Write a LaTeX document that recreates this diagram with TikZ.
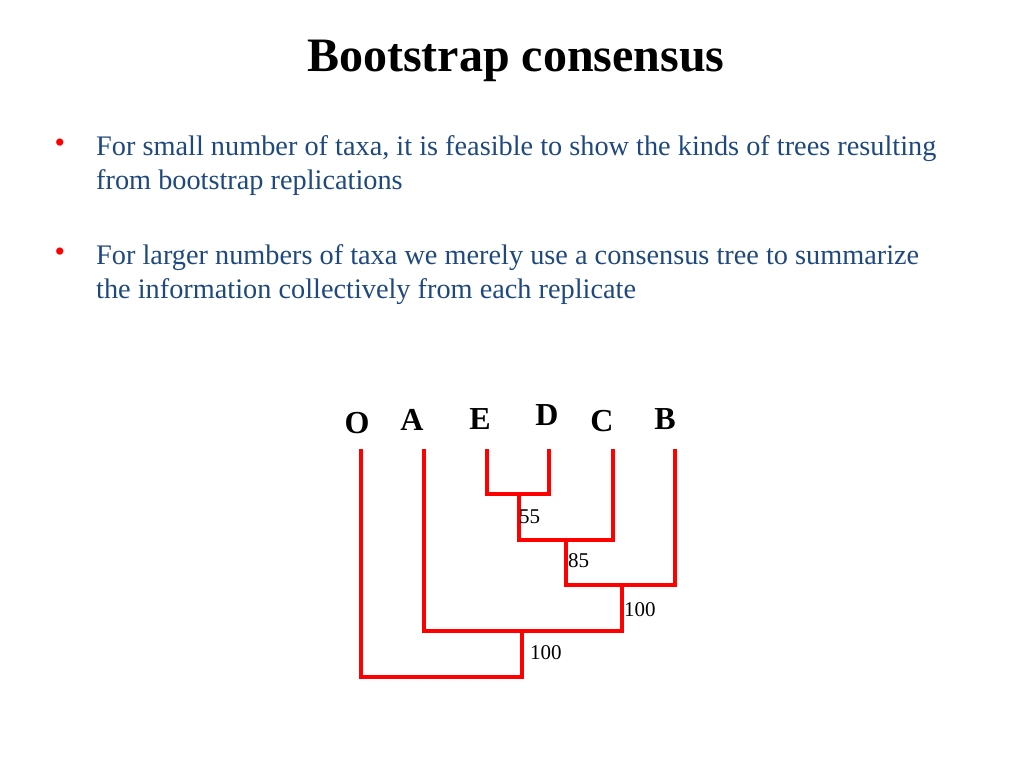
\documentclass[tikz,border=0pt]{standalone}
\usepackage{fontspec}
\setmainfont{Liberation Serif}
\definecolor{txtblue}{HTML}{1F497D}
\definecolor{treered}{HTML}{FF0000}
\begin{document}
\begin{tikzpicture}[x=1pt,y=-1pt,
  branch/.style={draw=treered,line width=4.5pt,line cap=butt,line join=miter},
  taxon/.style={font=\fontsize{32}{32}\selectfont\bfseries,inner sep=0pt},
  boot/.style={font=\fontsize{21}{21}\selectfont,inner sep=0pt,anchor=west},
  body/.style={font=\fontsize{28.3}{34}\selectfont,text=txtblue,anchor=north west,inner sep=0pt,align=left},
  bul/.style={font=\fontsize{30}{30}\selectfont,text=treered,inner sep=0pt}]
\useasboundingbox (0,0) rectangle (1024,768);
\node[font=\fontsize{48}{48}\selectfont\bfseries,inner sep=0pt] (title) at (516,61) {Bootstrap consensus};
\node[bul] (b1) at (60,146) {•};
\node[body] (t1) at (96,135) {For small number of taxa, it is feasible to show the kinds of trees resulting\\from bootstrap replications};
\node[bul] (b2) at (60,255) {•};
\node[body] (t2) at (96,244) {For larger numbers of taxa we merely use a consensus tree to summarize\\the information collectively from each replicate};
% taxa
\node[taxon] (O) at (357,423) {O};
\node[taxon] (A) at (412,420) {A};
\node[taxon] (E) at (480,419) {E};
\node[taxon] (D) at (547,415) {D};
\node[taxon] (C) at (602,421) {C};
\node[taxon] (B) at (665,419) {B};
% tree
\draw[branch] (487,449) |- (549,494) -- (549,449);
\draw[branch] (519,494) |- (613,540) -- (613,449);
\draw[branch] (566,540) |- (675,585) -- (675,449);
\draw[branch] (622,585) |- (424,631) -- (424,449);
\draw[branch] (522,631) |- (361,677) -- (361,449);
\node[boot] (n55) at (519,517) {55};
\node[boot] (n85) at (568,561) {85};
\node[boot] (n100a) at (624,610) {100};
\node[boot] (n100b) at (530,653) {100};
\end{tikzpicture}
\end{document}
